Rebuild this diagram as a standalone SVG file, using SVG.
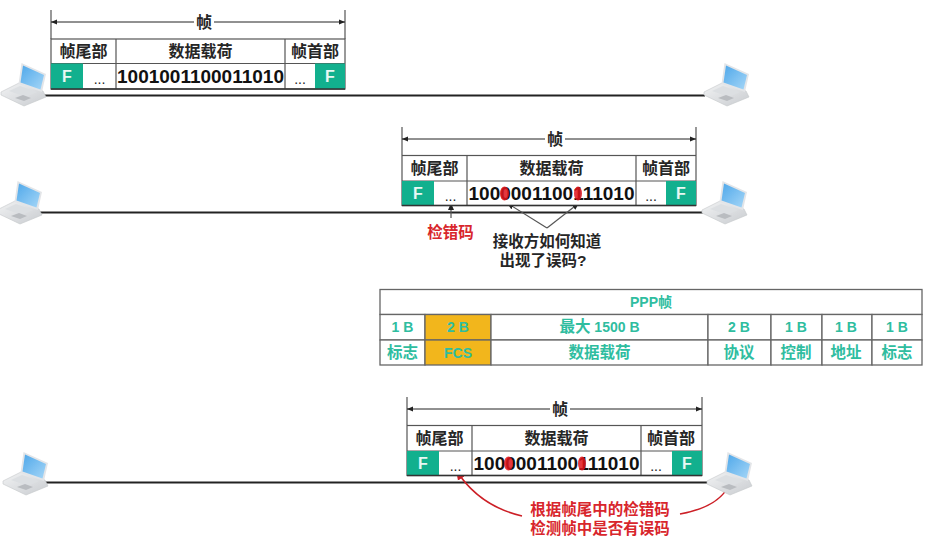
<svg xmlns="http://www.w3.org/2000/svg" xmlns:xlink="http://www.w3.org/1999/xlink" width="928" height="550" viewBox="0 0 928 550">
<style>
text{font-family:"Liberation Sans","Noto Sans CJK SC",sans-serif;font-weight:700;text-anchor:middle}
.h{font-size:16px;fill:#262626}
.d{font-size:19px;fill:#111}
.f{font-size:16px;fill:#e8f8f4}
.dots{font-size:14px;font-weight:400;fill:#222}
.r{font-size:15.5px;fill:#d8262c}
.k{font-size:15.5px;fill:#262626}
.t{font-size:15.5px;fill:#2fbd9f}
.tn{font-size:14px;fill:#2fbd9f}
.box{fill:#fff;stroke:#555;stroke-width:1.2}
.teal{fill:#12b08e}
.bl{fill:none;stroke:#333;stroke-width:1.4}
.dv{stroke:#555;stroke-width:1.2;fill:none}
.dim{stroke:#222;stroke-width:1;fill:none;marker-start:url(#ds);marker-end:url(#de)}
.net{stroke:#222;stroke-width:2;fill:none}
.cell{fill:#fff;stroke:#666;stroke-width:1.3}
.amber{fill:#f2b61c;stroke:#666;stroke-width:1.3}
.oval{fill:#e0141c;opacity:.85}
</style>
<defs>
<marker id="de" markerWidth="7" markerHeight="6" refX="6" refY="3" orient="auto" markerUnits="userSpaceOnUse"><path d="M0 0.5L6 3L0 5.5Z" fill="#222"/></marker>
<marker id="ds" markerWidth="7" markerHeight="6" refX="0" refY="3" orient="auto" markerUnits="userSpaceOnUse"><path d="M6 0.5L0 3L6 5.5Z" fill="#222"/></marker>
<marker id="ka" markerWidth="8" markerHeight="7" refX="7" refY="3.5" orient="auto" markerUnits="userSpaceOnUse"><path d="M0 0.5L7 3.5L0 6.5Z" fill="#222"/></marker>
<marker id="ra" markerWidth="11" markerHeight="9" refX="10" refY="4.5" orient="auto" markerUnits="userSpaceOnUse"><path d="M0 0.5L10 4.5L0 8.5Z" fill="#cc1f26"/></marker>
<linearGradient id="scr" x1="0" y1="0" x2="1" y2="1"><stop offset="0" stop-color="#4fa8ea"/><stop offset="1" stop-color="#a5d6f7"/></linearGradient>
<linearGradient id="bs" x1="0" y1="0" x2="1" y2="1"><stop offset="0" stop-color="#f2f3f4"/><stop offset="1" stop-color="#c9ccd0"/></linearGradient>
<filter id="soft" x="-10%" y="-10%" width="120%" height="120%"><feGaussianBlur stdDeviation="0.5"/></filter>
<symbol id="lap" width="50" height="110" viewBox="0 0 50 110" overflow="visible">
<g filter="url(#soft)">
<path d="M1 92L19 83L43 91L46 97L24 106L1 95Z" fill="url(#bs)" stroke="#c4c7ca" stroke-width=".6"/>
<path d="M9 91L20 86L37 92L26 97Z" fill="#dcdfe2"/>
<path d="M15 98L23 95L31 98L24 101Z" fill="#b9bcc0"/>
<path d="M21.500 63L46 74L42 92L18.500 84Z" fill="#e3e5e8"/>
<path d="M23 65.500L44 75L40.500 89.500L20.500 82.500Z" fill="url(#scr)"/>
</g>
</symbol>
</defs>

<g id="connectors">
<path class="net" d="M42 95.500H705"/>
<path class="net" d="M38 212.500H703"/>
<path class="net" d="M45 482.500H708"/>
<path class="dv" d="M451 218V203" marker-end="url(#ka)"/>
<path class="dv" d="M547 228L507 203" marker-end="url(#ka)"/>
<path class="dv" d="M547 228L579 203" marker-end="url(#ka)"/>
<path d="M522 516C492 509 470 492 456 470" fill="none" stroke="#cc1f26" stroke-width="1.500" marker-end="url(#ra)"/>
<path d="M680 514C702 510 720 502 728 487" fill="none" stroke="#cc1f26" stroke-width="1.500"/>
</g>

<g id="laptop-1a"><use xlink:href="#lap" href="#lap" x="0" y="0" width="50" height="110"/></g>
<g id="laptop-1b"><use xlink:href="#lap" href="#lap" x="703" y="0" width="50" height="110"/></g>
<g id="laptop-2a"><use xlink:href="#lap" href="#lap" x="-4" y="118" width="50" height="110"/></g>
<g id="laptop-2b"><use xlink:href="#lap" href="#lap" x="701" y="118" width="50" height="110"/></g>
<g id="laptop-3a"><use xlink:href="#lap" href="#lap" x="2" y="389" width="50" height="110"/></g>
<g id="laptop-3b"><use xlink:href="#lap" href="#lap" x="706" y="389" width="50" height="110"/></g>

<g id="frame-1" transform="translate(51,0)">
<path class="dv" d="M0 10V39M294 10V39"/>
<path class="dim" d="M0 22H143M163 22H294"/>
<text class="h" x="153" y="27.500">帧</text>
<rect class="box" x="0" y="39" width="294" height="50"/>
<path class="dv" d="M0 63.500H294M65 39V89M234 39V89"/>
<rect class="teal" x="0" y="63.500" width="32" height="25.500"/>
<rect class="teal" x="264" y="63.500" width="30" height="25.500"/>
<path class="bl" d="M0 89H294"/>
<text class="h" x="32.500" y="57">帧尾部</text>
<text class="h" x="149.500" y="57">数据载荷</text>
<text class="h" x="264" y="57">帧首部</text>
<text class="f" x="16" y="82">F</text>
<text class="f" x="279" y="82">F</text>
<text class="dots" x="48.500" y="84">...</text>
<text class="dots" x="249" y="84">...</text>
<text class="d" x="149.500" y="83">1001001100011010</text>
</g>

<g id="frame-2" transform="translate(402,117)">
<path class="dv" d="M0 10V38M294 10V38"/>
<path class="dim" d="M0 22H143M163 22H294"/>
<text class="h" x="153" y="27.500">帧</text>
<rect class="box" x="0" y="38.500" width="294" height="50"/>
<path class="dv" d="M0 64H294M65 38.500V88.500M234 38.500V88.500"/>
<rect class="teal" x="0" y="64" width="32" height="24.500"/>
<rect class="teal" x="264" y="64" width="30" height="24.500"/>
<path class="bl" d="M0 88.500H294"/>
<text class="h" x="32.500" y="57">帧尾部</text>
<text class="h" x="149.500" y="57">数据载荷</text>
<text class="h" x="264" y="57">帧首部</text>
<text class="f" x="16" y="82">F</text>
<text class="f" x="279" y="82">F</text>
<text class="dots" x="48.500" y="84">...</text>
<text class="dots" x="249" y="84">...</text>
<text class="d" x="149.500" y="83">1000001100111010</text>
<ellipse class="oval" cx="102.500" cy="76.500" rx="4.500" ry="7"/>
<ellipse class="oval" cx="176" cy="76.500" rx="4" ry="7"/>
</g>

<g id="frame-3" transform="translate(407,387)">
<path class="dv" d="M0 10V38M295 10V38"/>
<path class="dim" d="M0 22H143M163 22H295"/>
<text class="h" x="153" y="27.500">帧</text>
<rect class="box" x="0" y="38.500" width="295" height="50"/>
<path class="dv" d="M0 64H295M65 38.500V88.500M234 38.500V88.500"/>
<rect class="teal" x="0" y="64" width="32" height="24.500"/>
<rect class="teal" x="265" y="64" width="30" height="24.500"/>
<path class="bl" d="M0 88.500H295"/>
<text class="h" x="32.500" y="57">帧尾部</text>
<text class="h" x="149.500" y="57">数据载荷</text>
<text class="h" x="264" y="57">帧首部</text>
<text class="f" x="16" y="82">F</text>
<text class="f" x="280" y="82">F</text>
<text class="dots" x="48.500" y="84">...</text>
<text class="dots" x="249" y="84">...</text>
<text class="d" x="149.500" y="83">1000001100111010</text>
<ellipse class="oval" cx="101.500" cy="76.500" rx="4.500" ry="7"/>
<ellipse class="oval" cx="175" cy="76.500" rx="4" ry="7"/>
</g>

<g id="label-fcs"><text class="r" x="450.500" y="238">检错码</text></g>
<g id="label-question">
<text class="k" x="547" y="247">接收方如何知道</text>
<text class="k" x="543" y="266">出现了误码?</text>
</g>
<g id="label-check">
<text class="r" x="600" y="515">根据帧尾中的检错码</text>
<text class="r" x="600" y="534">检测帧中是否有误码</text>
</g>

<g id="ppp-table">
<rect class="cell" x="380" y="289.500" width="542" height="25"/>
<rect class="cell" x="380" y="314.500" width="45" height="25.500"/><rect class="cell" x="380" y="340" width="45" height="25"/>
<rect class="amber" x="425" y="314.500" width="66" height="25.500"/><rect class="amber" x="425" y="340" width="66" height="25"/>
<rect class="cell" x="491" y="314.500" width="217" height="25.500"/><rect class="cell" x="491" y="340" width="217" height="25"/>
<rect class="cell" x="708" y="314.500" width="63" height="25.500"/><rect class="cell" x="708" y="340" width="63" height="25"/>
<rect class="cell" x="771" y="314.500" width="51" height="25.500"/><rect class="cell" x="771" y="340" width="51" height="25"/>
<rect class="cell" x="822" y="314.500" width="50" height="25.500"/><rect class="cell" x="822" y="340" width="50" height="25"/>
<rect class="cell" x="872" y="314.500" width="50" height="25.500"/><rect class="cell" x="872" y="340" width="50" height="25"/>
<text class="tn" x="651" y="307">PPP帧</text>
<text class="tn" x="402.500" y="332">1 B</text>
<text class="tn" x="458" y="332">2 B</text>
<text class="tn" x="599.500" y="332"><tspan font-size="15.5">最大</tspan> 1500 B</text>
<text class="tn" x="739" y="332">2 B</text>
<text class="tn" x="796" y="332">1 B</text>
<text class="tn" x="846" y="332">1 B</text>
<text class="tn" x="897" y="332">1 B</text>
<text class="t" x="402.500" y="358">标志</text>
<text class="tn" x="458" y="358">FCS</text>
<text class="t" x="599.500" y="358">数据载荷</text>
<text class="t" x="739" y="358">协议</text>
<text class="t" x="796" y="358">控制</text>
<text class="t" x="846" y="358">地址</text>
<text class="t" x="897" y="358">标志</text>
</g>
</svg>
